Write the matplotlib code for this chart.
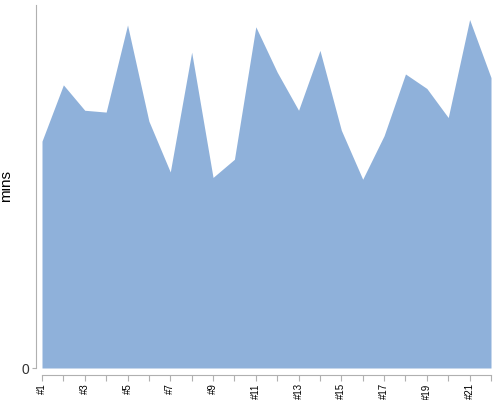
import matplotlib
matplotlib.use("Agg")
import matplotlib.pyplot as plt

plt.rcParams["font.family"] = ["Liberation Sans", "DejaVu Sans"]

categories = [f"#{i}" for i in range(1, 23)]
values = [62.5, 78, 71, 70.5, 94.5, 68, 54, 87, 52.5, 57.5, 94, 81.5,
          71, 87.5, 65.5, 52, 64, 81, 77, 69, 96, 80]

fig = plt.figure(figsize=(5, 4), dpi=100)
ax = fig.add_axes([0.084, 0.08, 0.898, 0.9075])
x = list(range(len(categories)))
ax.fill_between(x, 0, values, color="#8fb1da", linewidth=0)
ax.set_xlim(0, len(categories) - 1)
ax.set_ylim(0, 100)

for s in ["top", "right"]:
    ax.spines[s].set_visible(False)
ax.spines["left"].set_position(("outward", 4))
ax.spines["bottom"].set_position(("outward", 5))
ax.spines["left"].set_color("#b0b0b0")
ax.spines["bottom"].set_color("#b0b0b0")

ax.set_yticks([0])
ax.set_yticklabels(["0"], fontsize=10, color="#333333")
ax.tick_params(axis="y", length=3, color="#b0b0b0", pad=2)
ax.set_xticks(x)
ax.set_xticklabels([c if i % 2 == 0 else "" for i, c in enumerate(categories)],
                   rotation=90, fontsize=7, color="black")
ax.tick_params(axis="x", length=4, color="#b0b0b0", pad=2)
ax.set_ylabel("mins", fontsize=11)
ax.yaxis.set_label_coords(-0.065, 0.5)

fig.savefig("out.png", dpi=100)
